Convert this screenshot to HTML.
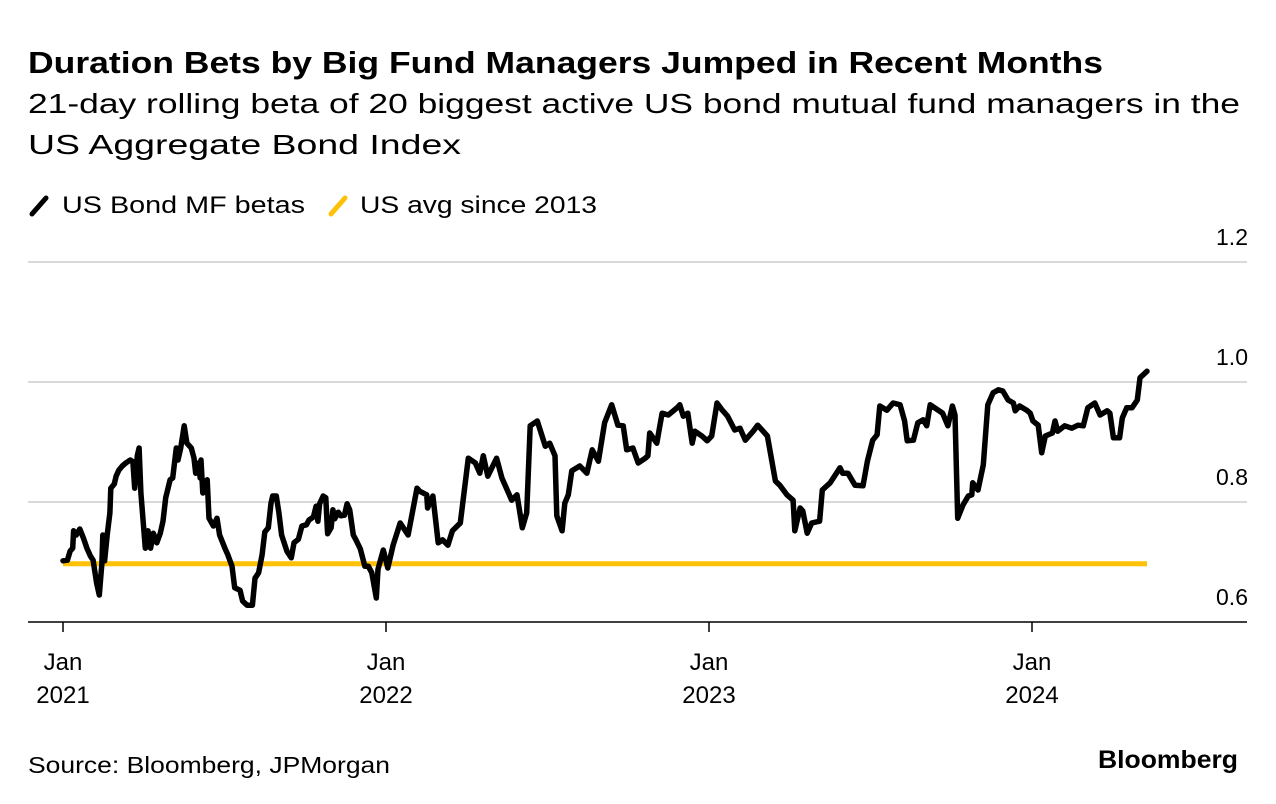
<!DOCTYPE html>
<html><head><meta charset="utf-8"><style>
body{margin:0;width:1276px;height:804px;background:#fff;font-family:"Liberation Sans",sans-serif;overflow:hidden}
</style></head><body>
<svg width="1276" height="804" style="position:absolute;left:0;top:0">
<text x="28" y="73" font-size="31" font-weight="bold" fill="#000" textLength="1075" lengthAdjust="spacingAndGlyphs">Duration Bets by Big Fund Managers Jumped in Recent Months</text>
<text x="28" y="113" font-size="28" fill="#000" textLength="1212" lengthAdjust="spacingAndGlyphs">21-day rolling beta of 20 biggest active US bond mutual fund managers in the</text>
<text x="28" y="154" font-size="28" fill="#000" textLength="433" lengthAdjust="spacingAndGlyphs">US Aggregate Bond Index</text>
<g><line x1="32" y1="214" x2="46" y2="198" stroke="#000" stroke-width="5" stroke-linecap="round"/><text x="62" y="213" font-size="24" textLength="243" lengthAdjust="spacingAndGlyphs">US Bond MF betas</text></g>
<g><line x1="331" y1="214" x2="345" y2="198" stroke="#ffc107" stroke-width="5" stroke-linecap="round"/><text x="360" y="213" font-size="24" textLength="237" lengthAdjust="spacingAndGlyphs">US avg since 2013</text></g>
<g id="grid"></g><g id="axes"></g><g id="marks"></g>
<text x="28" y="773" font-size="23" textLength="362" lengthAdjust="spacingAndGlyphs">Source: Bloomberg, JPMorgan</text>
<text x="1098" y="768" font-size="25" font-weight="bold" textLength="140" lengthAdjust="spacingAndGlyphs">Bloomberg</text>
</svg>
<script>
const yTicks=[0.6,0.8,1.0,1.2];
const yTickLabels=["0.6","0.8","1.0","1.2"];
const xTickDays=[0,365,730,1095];
const xTickYears=["2021","2022","2023","2024"];
const avgValue=0.697;
const avgStartDay=0, avgEndDay=1225;
const days=[0,5,8,11,12,15,19,23,27,31,34,38,41,44,45,47,50,53,54,58,60,63,67,71,76,79,81,84,86,88,93,96,99,102,106,110,113,116,121,124,128,130,133,137,140,145,148,150,153,155,156,158,163,165,170,174,177,183,186,191,194,200,203,208,214,217,221,225,228,232,235,237,241,244,247,253,258,261,266,270,275,278,283,286,288,290,294,297,299,303,305,307,311,314,318,321,324,328,331,336,341,345,349,354,356,362,367,373,381,390,400,403,411,412,418,424,429,435,440,449,458,466,471,475,480,490,496,507,513,519,524,528,536,545,550,556,558,564,567,571,575,584,592,598,605,612,620,627,633,637,644,650,658,661,663,671,677,684,694,697,701,706,711,714,722,728,733,739,745,751,759,765,771,780,785,796,805,810,818,825,827,833,836,841,846,855,858,867,878,881,887,895,904,909,915,920,923,931,938,946,951,954,961,966,972,976,980,989,994,1000,1005,1008,1011,1017,1023,1027,1028,1034,1040,1045,1051,1057,1062,1068,1074,1076,1081,1089,1093,1096,1102,1106,1110,1118,1121,1124,1132,1140,1147,1153,1158,1166,1172,1180,1183,1187,1194,1197,1202,1208,1214,1217,1225];
const betas=[.702,.703,.718,.723,.752,.745,.755,.740,.723,.710,.703,.665,.645,.698,.745,.702,.745,.782,.823,.830,.843,.853,.860,.865,.870,.867,.823,.877,.890,.815,.723,.752,.723,.748,.732,.748,.768,.807,.837,.840,.890,.870,.890,.927,.898,.890,.873,.848,.865,.840,.870,.815,.837,.773,.760,.773,.745,.723,.713,.693,.657,.653,.635,.628,.628,.673,.682,.712,.750,.757,.798,.810,.810,.782,.745,.718,.707,.732,.738,.760,.762,.770,.775,.793,.768,.797,.810,.807,.747,.757,.787,.772,.783,.777,.778,.797,.787,.745,.737,.722,.693,.693,.682,.640,.688,.720,.690,.728,.765,.745,.823,.818,.812,.790,.810,.732,.737,.728,.752,.765,.873,.865,.848,.877,.843,.873,.840,.803,.812,.757,.782,.927,.935,.893,.898,.877,.777,.752,.798,.812,.852,.860,.848,.887,.868,.932,.962,.928,.927,.887,.890,.865,.873,.877,.915,.898,.948,.945,.957,.962,.943,.948,.898,.918,.910,.902,.910,.965,.953,.943,.920,.923,.903,.918,.928,.910,.835,.828,.812,.803,.752,.790,.785,.748,.765,.768,.820,.832,.857,.848,.848,.828,.827,.868,.903,.912,.960,.953,.965,.962,.935,.902,.903,.932,.937,.927,.962,.953,.948,.927,.960,.945,.773,.795,.810,.812,.832,.820,.862,.962,.982,.987,.985,.970,.965,.952,.960,.953,.948,.935,.928,.882,.910,.915,.935,.918,.927,.923,.928,.927,.957,.965,.945,.952,.948,.907,.907,.940,.957,.957,.970,1.007,1.018];
const NS="http://www.w3.org/2000/svg";
const X0=63,pxPerDay=323/365;
function xS(d){return X0+d*pxPerDay;}
function yS(v){return 622-(v-0.6)*600;}
const grid=document.getElementById('grid'),axes=document.getElementById('axes'),marks=document.getElementById('marks');
function mk(tag,attrs,parent){const e=document.createElementNS(NS,tag);for(const k in attrs)e.setAttribute(k,attrs[k]);parent.appendChild(e);return e;}
yTicks.forEach((v,i)=>{
  if(i>0){const g=mk('line',{x1:28,x2:1247,y1:yS(v),y2:yS(v),stroke:'#d9d9d9','stroke-width':2},grid);
  
  }
  const t=mk('text',{x:1248,y:yS(v)-17,'font-size':23,'text-anchor':'end',fill:'#000'},axes);
  t.textContent=yTickLabels[i];
  
  
});
const ax=mk('line',{x1:28,x2:1247,y1:622,y2:622,stroke:'#000','stroke-width':1.5},axes);


xTickDays.forEach((d,i)=>{
  const tk=mk('line',{x1:xS(d),x2:xS(d),y1:622,y2:632,stroke:'#000','stroke-width':1.5},axes);
  
  
  const t1=mk('text',{x:xS(d),y:670,'font-size':24,'text-anchor':'middle'},axes);
  t1.textContent='Jan';
  
  
  const t2=mk('text',{x:xS(d),y:703,'font-size':24,'text-anchor':'middle'},axes);
  t2.textContent=xTickYears[i];
  
  
});
const avg=mk('line',{x1:xS(avgStartDay),x2:xS(avgEndDay),y1:yS(avgValue),y2:yS(avgValue),stroke:'#ffc107','stroke-width':5},marks);


const pts=days.map((d,i)=>xS(d).toFixed(1)+','+yS(betas[i]).toFixed(1)).join(' ');
const pl=mk('polyline',{points:pts,fill:'none',stroke:'#000','stroke-width':5.5,'stroke-linejoin':'round','stroke-linecap':'round'},marks);


</script>
</body></html>
